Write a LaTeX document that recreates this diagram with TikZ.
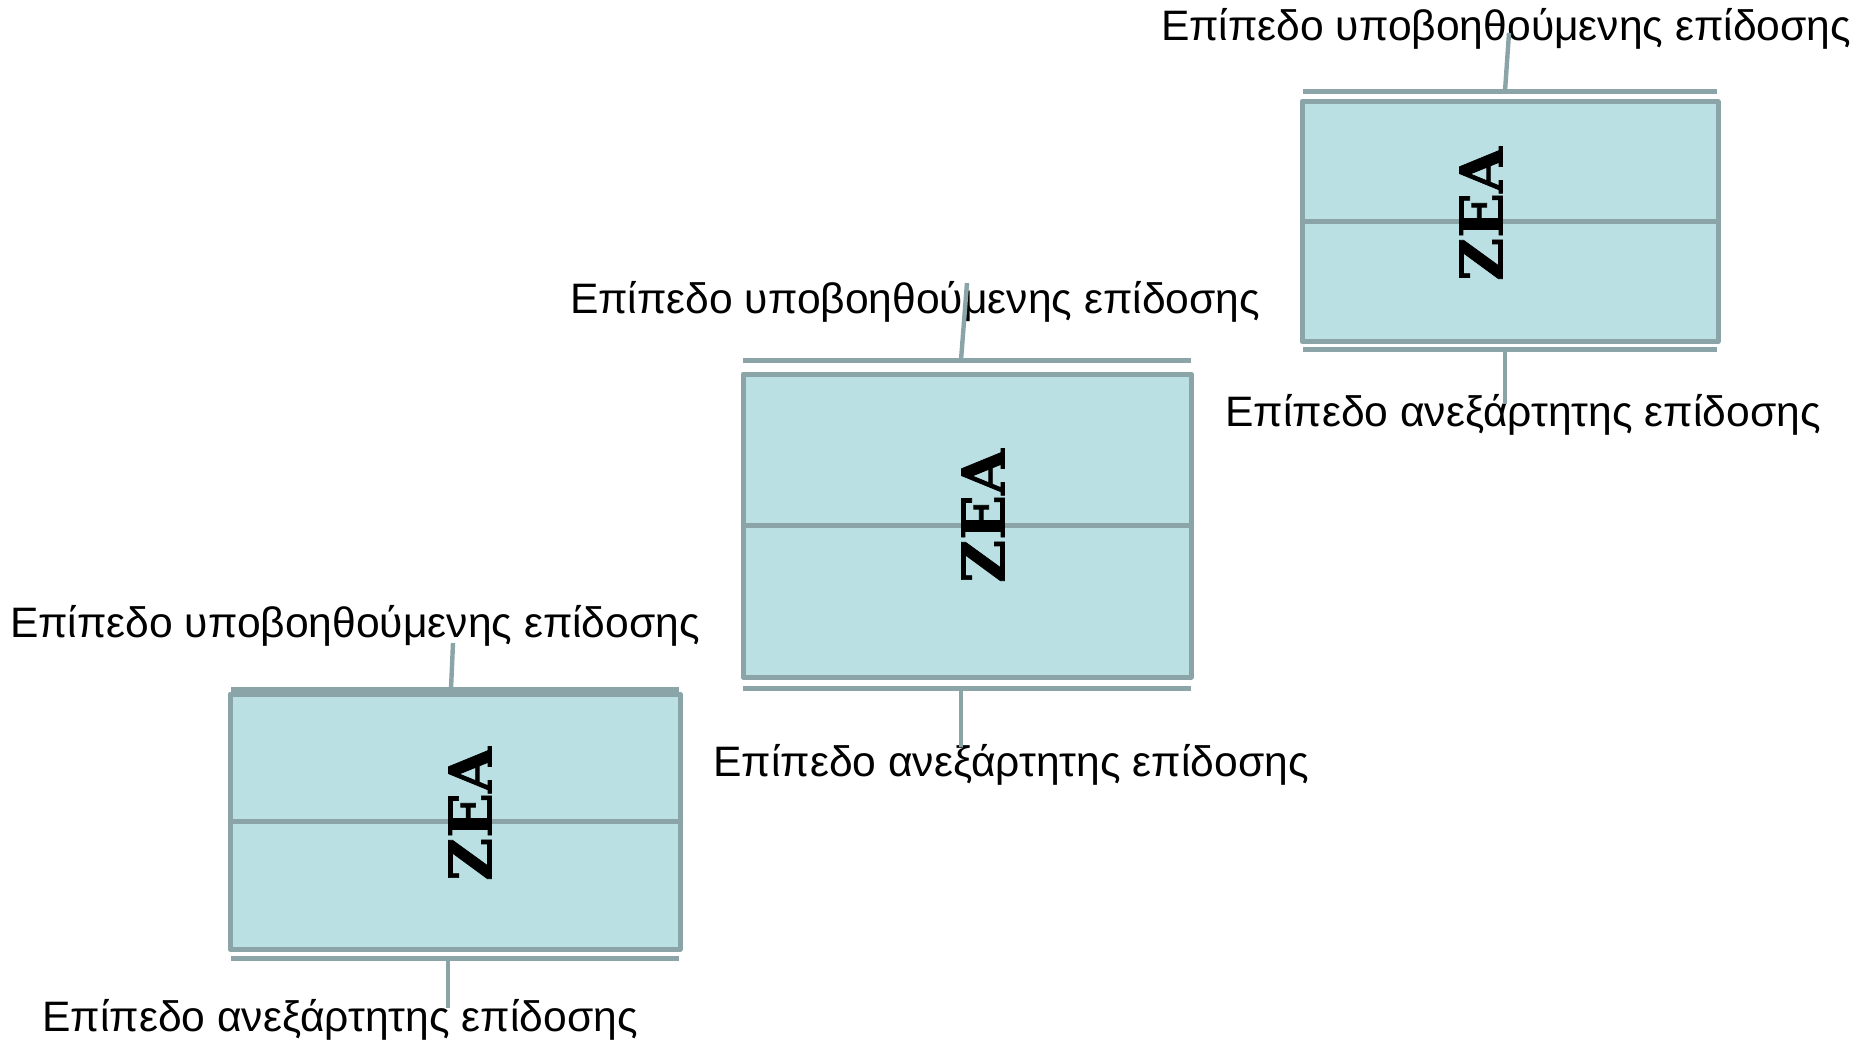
\documentclass[tikz,border=0pt]{standalone}
\usepackage{fontspec}
\setmainfont{Liberation Sans}
\newfontfamily\zeafont[BoldFeatures={FakeBold=1.2}]{DejaVu Serif}
\definecolor{lvlgray}{HTML}{8BA4A7}
\definecolor{lvlfill}{HTML}{BAE0E3}
\newcommand{\lbl}{\fontsize{21.3}{25}\selectfont}
\tikzset{
  lvlbox/.style={draw=lvlgray,fill=lvlfill,line width=2.5pt,line join=round,inner sep=0pt},
  lvlbar/.style={draw=lvlgray,line width=2.5pt},
  lead/.style={draw=lvlgray,line width=2.2pt},
  zea/.style={rotate=90,inner sep=0pt,font=\zeafont\bfseries\fontsize{29.5}{32}\selectfont},
  txt/.style={inner sep=0pt,anchor=base,font=\lbl}
}

\begin{document}
\begin{tikzpicture}[x=0.5pt,y=-0.5pt]
      \useasboundingbox (0,0) rectangle (1862,1045);
      % upper right
      \node[lvlbox,minimum width=208pt,minimum height=120pt] (box3) at (1510,221.7) {};
      \draw[lvlgray,line width=2.5pt] (box3.west) -- (box3.east);
      \node[zea] (zea3) at (1481,214) {ZEA};
      \draw[lvlbar] (1303,91) -- (1717,91);
      \draw[lvlbar] (1303,349) -- (1717,349);
      \node[txt] (up3) at (1506,40) {Επίπεδο υποβοηθούμενης επίδοσης};
      \node[txt] (in3) at (1523,426) {Επίπεδο ανεξάρτητης επίδοσης};
      \coordinate (u3) at (1505,91);
      \coordinate (u3e) at (1509,33);
      \coordinate (d3) at (1505,349);
      \coordinate (d3e) at (1505,404);
      \draw[lead] (u3) -- (u3e);
      \draw[lead] (d3) -- (d3e);
      % middle
      \node[lvlbox,minimum width=224pt,minimum height=151.5pt] (box2) at (967,525.5) {};
      \draw[lvlgray,line width=2.5pt] (box2.west) -- (box2.east);
      \node[zea] (zea2) at (983,516) {ZEA};
      \draw[lvlbar] (743,360) -- (1191,360);
      \draw[lvlbar] (743,688) -- (1191,688);
      \node[txt] (up2) at (915,313) {Επίπεδο υποβοηθούμενης επίδοσης};
      \node[txt] (in2) at (1011,776) {Επίπεδο ανεξάρτητης επίδοσης};
      \coordinate (u2) at (961,360);
      \coordinate (u2e) at (967,283);
      \coordinate (d2) at (961,688);
      \coordinate (d2e) at (961,747);
      \draw[lead] (u2) -- (u2e);
      \draw[lead] (d2) -- (d2e);
      % lower left
      \node[lvlbox,minimum width=225pt,minimum height=127.5pt] (box1) at (455,821.5) {};
      \draw[lvlgray,line width=2.5pt] (box1.west) -- (box1.east);
      \node[zea] (zea1) at (470,814) {ZEA};
      \draw[lvlbar] (231,689) -- (679,689);
      \draw[lvlbar] (231,958) -- (679,958);
      \node[txt] (up1) at (355,637) {Επίπεδο υποβοηθούμενης επίδοσης};
      \node[txt] (in1) at (340,1031) {Επίπεδο ανεξάρτητης επίδοσης};
      \coordinate (u1) at (451,689);
      \coordinate (u1e) at (453,643);
      \coordinate (d1) at (448,958);
      \coordinate (d1e) at (448,1008);
      \draw[lead] (u1) -- (u1e);
      \draw[lead] (d1) -- (d1e);
\end{tikzpicture}
\end{document}
